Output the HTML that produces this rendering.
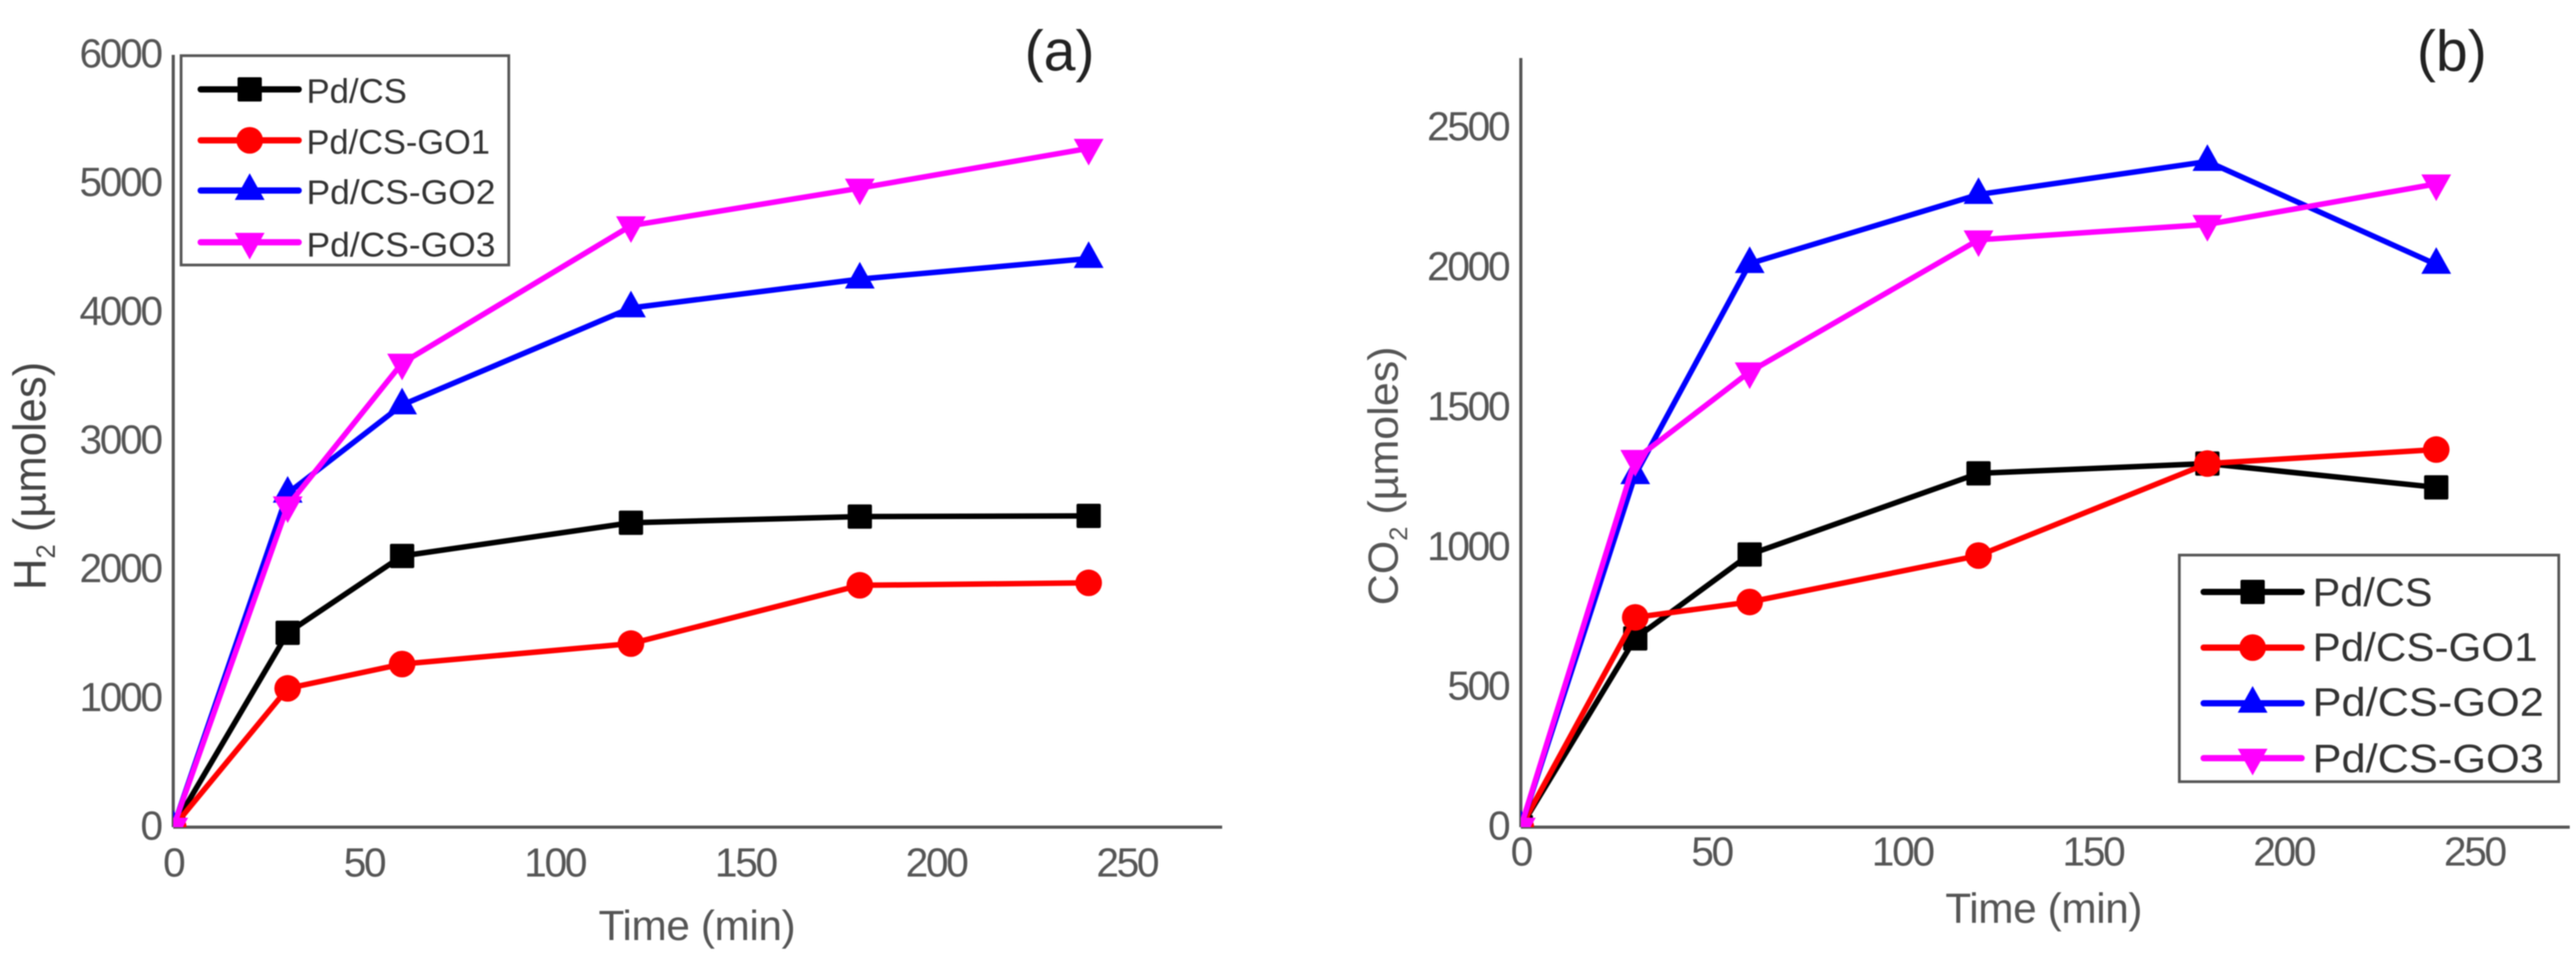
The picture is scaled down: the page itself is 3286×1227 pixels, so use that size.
<!DOCTYPE html>
<html lang="en">
<head>
<meta charset="utf-8">
<title>H2 and CO2 production over time</title>
<style>
html,body{margin:0;padding:0;background:#fff;}
svg{display:block;filter:blur(0.7px);}
text{font-family:"Liberation Sans",sans-serif;}
.tick{fill:#555;font-size:52px;letter-spacing:-3px;}
.axt{fill:#555;font-size:54px;letter-spacing:-.5px;}
.leg{fill:#333;}
</style>
</head>
<body>
<svg id="chart" xmlns="http://www.w3.org/2000/svg" width="3286" height="1227" viewBox="0 0 3286 1227">
  <rect width="3286" height="1227" fill="#fff"/>
  <g id="panelA"></g>
  <g id="panelB"></g>

  <text x="1307" y="90" font-size="73" fill="#222">(a)</text>
  <text x="3083" y="90" font-size="73" fill="#222">(b)</text>

  <text class="axt" x="889" y="1199" text-anchor="middle">Time (min)</text>
  <text class="axt" x="2607" y="1177" text-anchor="middle">Time (min)</text>
  <text fill="#444" font-size="58" transform="translate(58,607) rotate(-90)" text-anchor="middle" textLength="291" lengthAdjust="spacingAndGlyphs">H<tspan font-size="34" dy="12">2</tspan><tspan dy="-12"> (µmoles)</tspan></text>
  <text fill="#555" font-size="54" transform="translate(1783,607) rotate(-90)" text-anchor="middle" textLength="330" lengthAdjust="spacingAndGlyphs">CO<tspan font-size="32" dy="12">2</tspan><tspan dy="-12"> (µmoles)</tspan></text>

  <g>
    <rect x="231" y="71" width="418" height="267" fill="#fff" stroke="#555" stroke-width="3.5"/>
    <g id="legendA"></g>
    <text class="leg" x="391" y="131" font-size="44" textLength="128" lengthAdjust="spacingAndGlyphs">Pd/CS</text>
    <text class="leg" x="391" y="196" font-size="44" textLength="234" lengthAdjust="spacingAndGlyphs">Pd/CS-GO1</text>
    <text class="leg" x="391" y="260" font-size="44" textLength="241" lengthAdjust="spacingAndGlyphs">Pd/CS-GO2</text>
    <text class="leg" x="391" y="327" font-size="44" textLength="241" lengthAdjust="spacingAndGlyphs">Pd/CS-GO3</text>
  </g>
  <g>
    <rect x="2780" y="708" width="484" height="289" fill="#fff" stroke="#555" stroke-width="3.5"/>
    <g id="legendB"></g>
    <text class="leg" x="2950" y="773" font-size="51" textLength="153" lengthAdjust="spacingAndGlyphs">Pd/CS</text>
    <text class="leg" x="2950" y="843" font-size="51" textLength="287" lengthAdjust="spacingAndGlyphs">Pd/CS-GO1</text>
    <text class="leg" x="2950" y="913" font-size="51" textLength="295" lengthAdjust="spacingAndGlyphs">Pd/CS-GO2</text>
    <text class="leg" x="2950" y="985" font-size="51" textLength="295" lengthAdjust="spacingAndGlyphs">Pd/CS-GO3</text>
  </g>
</svg>
<script>
var times = [0, 30, 60, 120, 180, 240];
var xTickLabels = [0, 50, 100, 150, 200, 250];
var yTickLabelsA = [0, 1000, 2000, 3000, 4000, 5000, 6000];
var yTickLabelsB = [0, 500, 1000, 1500, 2000, 2500];

var h2PdCS = [0, 1510, 2107, 2365, 2413, 2418];
var h2GO1 = [0, 1078, 1267, 1426, 1879, 1898];
var h2GO2 = [0, 2594, 3280, 4034, 4258, 4418];
var h2GO3 = [0, 2497, 3605, 4673, 4965, 5274];

var co2PdCS = [0, 675, 975, 1265, 1300, 1215];
var co2GO1 = [0, 750, 805, 971, 1300, 1350];
var co2GO2 = [0, 1260, 2015, 2262, 2380, 2012];
var co2GO3 = [0, 1315, 1628, 2100, 2155, 2300];

var seriesNames = ['pd-cs', 'go1', 'go2', 'go3'];
var seriesColors = ['#000000', '#ff0000', '#0000ff', '#ff00ff'];
var seriesShapes = ['square', 'circle', 'up', 'down'];

var NS = 'http://www.w3.org/2000/svg';

function make(tag, parent, attrs) {
  var el = document.createElementNS(NS, tag);
  for (var k in attrs) { el.setAttribute(k, attrs[k]); }
  parent.appendChild(el);
  return el;
}

function drawMarker(parent, shape, cx, cy, color, name) {
  var el;
  if (shape === 'square') {
    el = make('rect', parent, {x: cx - 15.5, y: cy - 15.5, width: 31, height: 31, rx: 2, fill: color});
  } else if (shape === 'circle') {
    el = make('circle', parent, {cx: cx, cy: cy, r: 17, fill: color});
  } else if (shape === 'up') {
    el = make('polygon', parent, {points: (cx - 19) + ',' + (cy + 12) + ' ' + (cx + 19) + ',' + (cy + 12) + ' ' + cx + ',' + (cy - 22), fill: color});
  } else {
    el = make('polygon', parent, {points: (cx - 19) + ',' + (cy - 12) + ' ' + (cx + 19) + ',' + (cy - 12) + ' ' + cx + ',' + (cy + 22), fill: color});
  }
  
  
}

function drawPanel(parent, cfg) {
  function xScale(t) { return cfg.x0 + (t - 0) * (cfg.x1 - cfg.x0) / cfg.xMax; }
  function yScale(v) { return cfg.y0 - (v - 0) * (cfg.y0 - cfg.y1) / cfg.yMax; }

  var clip = make('clipPath', parent, {id: cfg.clipId});
  make('rect', clip, {x: cfg.x0, y: 0, width: 3286 - cfg.x0, height: cfg.y0});

  var yAxis = make('line', parent, {x1: cfg.x0, x2: cfg.x0, y1: yScale(cfg.yMax), y2: cfg.y0, stroke: '#555', 'stroke-width': 4});
  
  
  var xAxis = make('line', parent, {x1: cfg.x0, x2: xScale(cfg.xMax), y1: cfg.y0, y2: cfg.y0, stroke: '#555', 'stroke-width': 4});
  
  

  xTickLabels.forEach(function (t) {
    var el = make('text', parent, {'class': 'tick', x: xScale(t), y: cfg.xLabelY, 'text-anchor': 'middle'});
    el.textContent = t;
    
    
  });
  cfg.yTicks.forEach(function (v) {
    var el = make('text', parent, {'class': 'tick', x: cfg.x0 - 16, y: yScale(v) + 16, 'text-anchor': 'end'});
    el.textContent = v;
    
    
  });

  cfg.series.forEach(function (vals, i) {
    var g = make('g', parent, {'clip-path': 'url(#' + cfg.clipId + ')'});
    
    
    var pts = vals.map(function (v, j) { return xScale(times[j]) + ',' + yScale(v); }).join(' ');
    var line = make('polyline', g, {points: pts, fill: 'none', stroke: seriesColors[i], 'stroke-width': 7, 'stroke-linejoin': 'round'});
    
    
    vals.forEach(function (v, j) {
      drawMarker(g, seriesShapes[i], xScale(times[j]), yScale(v), seriesColors[i], 'point-' + seriesNames[i]);
    });
  });
}

function drawLegend(parent, x1, x2, rows) {
  rows.forEach(function (y, i) {
    var line = make('line', parent, {x1: x1, x2: x2, y1: y, y2: y, stroke: seriesColors[i], 'stroke-width': 8, 'stroke-linecap': 'round'});
    
    
    drawMarker(parent, seriesShapes[i], (x1 + x2) / 2, y, seriesColors[i], 'legend-marker-' + seriesNames[i]);
  });
}

drawPanel(document.getElementById('panelA'), {
  clipId: 'plotClipA',
  x0: 221, x1: 1559, xMax: 275, y0: 1055, y1: 70, yMax: 6000,
  xLabelY: 1118, yTicks: yTickLabelsA,
  series: [h2PdCS, h2GO1, h2GO2, h2GO3]
});
drawPanel(document.getElementById('panelB'), {
  clipId: 'plotClipB',
  x0: 1940, x1: 3278, xMax: 275, y0: 1055, y1: 74, yMax: 2750,
  xLabelY: 1104, yTicks: yTickLabelsB,
  series: [co2PdCS, co2GO1, co2GO2, co2GO3]
});
drawLegend(document.getElementById('legendA'), 256, 381, [114, 179, 243, 309]);
drawLegend(document.getElementById('legendB'), 2811, 2936, [755, 826, 897, 967]);
</script>
</body>
</html>
